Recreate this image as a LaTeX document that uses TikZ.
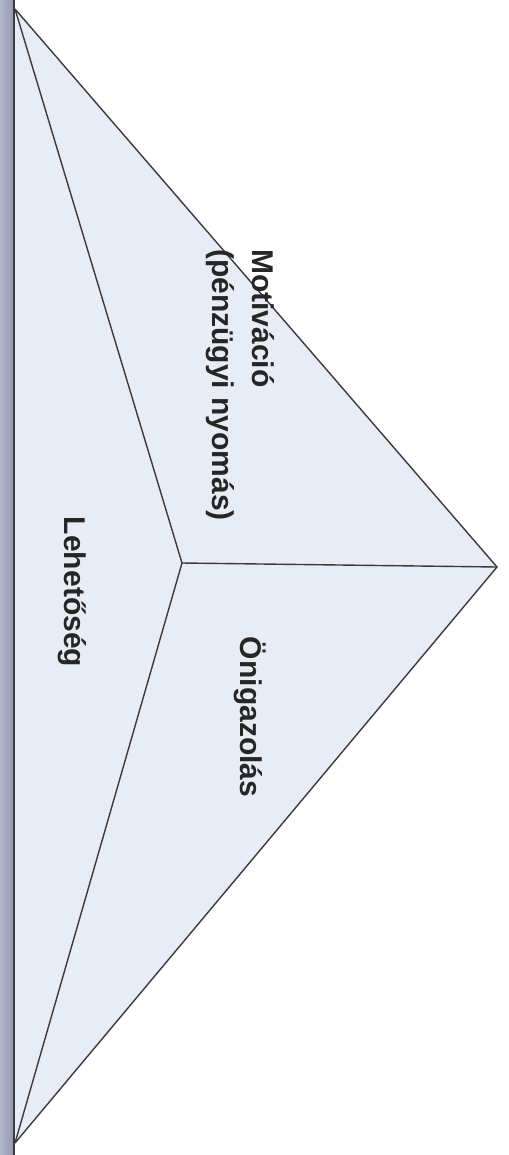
\documentclass[tikz,border=0pt]{standalone}
\usepackage{fontspec}
\setmainfont{Liberation Sans}
\usepackage{xcolor}
\usetikzlibrary{positioning}
\definecolor{facefill}{HTML}{E8ECF5}
\definecolor{barfill}{HTML}{9297B3}
\definecolor{edgecol}{HTML}{3A3A40}

\begin{document}
\begin{tikzpicture}[
    x=0.5pt,y=-0.5pt,
    e/.style={draw=edgecol, line width=0.7pt},
    lbl/.style={rotate=-90, font=\bfseries\fontsize{15}{20}\selectfont, text=black!85, align=left, inner sep=0pt}
]
\useasboundingbox (0,0) rectangle (508,1155);
% left bar
\fill[barfill, left color=barfill!70!white, right color=barfill] (0,0) rectangle (14,1155);
\draw[edgecol, line width=0.8pt] (14,0) -- (14,1155);

% corners of the pyramid
\coordinate (top) at (15,9);
\coordinate (bot) at (15,1143);
\coordinate (tip) at (497,567);
\coordinate (mid) at (182,563);

\fill[facefill] (top) -- (tip) -- (bot) -- cycle;
\draw[e] (top) -- (tip) -- (bot);
\draw[e] (top) -- (mid);
\draw[e] (bot) -- (mid);
\draw[e] (tip) -- (mid);

% labels
\node[lbl] (motiv) at (240,385) {Motiváció\\(pénzügyi nyomás)};
\node[lbl] (lehet) at (72,592) {Lehetőség};
\node[lbl] (onig) at (250,717) {Önigazolás};
\end{tikzpicture}
\end{document}
